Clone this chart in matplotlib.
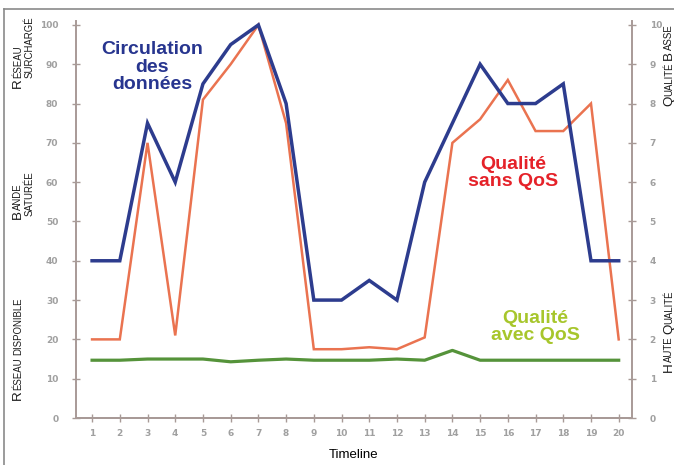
import matplotlib
matplotlib.use("Agg")
import matplotlib.pyplot as plt
from matplotlib import font_manager
from matplotlib.lines import Line2D

W, H = 674, 465

# data
timeline = list(range(1, 21))
circulation = [40, 40, 75, 60, 85, 95, 100, 80, 30, 30, 35, 30, 60, 75, 90, 80, 80, 85, 40, 40]
sans_qos = [2, 2, 7, 2.1, 8.1, 9, 10, 7.5, 1.75, 1.75, 1.8, 1.75, 2.05, 7, 7.6, 8.6, 7.3, 7.3, 8, 2]
avec_qos = [1.47, 1.47, 1.5, 1.5, 1.5, 1.43, 1.47, 1.5, 1.47, 1.47, 1.47, 1.5, 1.47, 1.72, 1.47,
            1.47, 1.47, 1.47, 1.47, 1.47]
left_ticks = list(range(0, 101, 10))
right_ticks = list(range(0, 11))

BLUE = "#2d3c8e"
RED = "#ea7350"
GREEN = "#55933a"
AXIS = "#a89a97"
TICKTXT = "#a0a0a0"


def have_font(name):
    try:
        font_manager.findfont(name, fallback_to_default=False)
        return True
    except Exception:
        return False


narrow = "Liberation Sans Narrow" if have_font("Liberation Sans Narrow") else "Liberation Sans"
k = 1.0 / 0.82 if narrow == "Liberation Sans Narrow" else 1.0

fig = plt.figure(figsize=(W / 100, H / 100), dpi=100)
ax = fig.add_axes([76 / W, 47 / H, (632 - 76) / W, (444 - 47) / H])
ax2 = ax.twinx()

ax.plot(timeline, circulation, color=BLUE, lw=2.5, solid_joinstyle="miter", zorder=3)
ax2.plot(timeline, sans_qos, color=RED, lw=1.8, solid_joinstyle="miter", zorder=2)
ax2.plot(timeline, avec_qos, color=GREEN, lw=2.3, zorder=2)

ax.set_xlim(0.42, 20.48)
ax.set_ylim(0, 101)
ax2.set_ylim(0, 10.1)
ax.set_zorder(ax2.get_zorder() + 1)
ax.patch.set_visible(False)

ax.set_xticks(timeline)
ax.set_yticks(left_ticks)
ax2.set_yticks(right_ticks)

for a in (ax, ax2):
    for s in a.spines.values():
        s.set_color(AXIS)
        s.set_linewidth(1.4)
    a.spines["top"].set_visible(False)
    a.tick_params(direction="inout", length=5.5, width=1.0, color=AXIS,
                  labelsize=6.5, labelcolor=TICKTXT)
ax.spines["right"].set_visible(False)
ax2.spines["left"].set_visible(False)
ax.tick_params(axis="y", pad=10)
ax2.tick_params(axis="y", pad=10)
ax.tick_params(axis="x", pad=5)
for lab in ax.get_xticklabels() + ax.get_yticklabels() + ax2.get_yticklabels():
    lab.set_fontweight("bold")

ax.set_xlabel("Timeline", family=narrow, fontsize=9.5 * k, labelpad=8)

# series labels
bold = dict(family="Liberation Sans", fontweight="bold", fontsize=14,
            ha="center", va="center", linespacing=1.02)
fig.text(152 / W, 1 - 67 / H, "Circulation\ndes\ndonnées", color="#27358f", **bold)
fig.text(513 / W, 1 - 173 / H, "Qualité\nsans QoS", color="#e52229", **bold)
fig.text(535 / W, 1 - 327 / H, "Qualité\navec QoS", color="#a7c62c", **bold)

renderer = fig.canvas.get_renderer()


def smallcaps(xb, ystart, word, big=9.6, small=6.9):
    # vertical small caps: capitals larger, rest smaller, sharing one baseline
    pieces = []
    for w_i, part in enumerate(word.split(" ")):
        if w_i:
            pieces.append((" ", small))
        if part[0].isupper():
            pieces.append((part[0], big))
            if part[1:]:
                pieces.append((part[1:].upper(), small))
        else:
            pieces.append((part.upper(), small))
    y = H - ystart
    for txt, size in pieces:
        t = fig.text(xb / W, y / H, txt, rotation=90, rotation_mode="anchor",
                     ha="left", va="baseline", family=narrow, fontsize=size * k,
                     color="#1a1a1a")
        y += t.get_window_extent(renderer).height


smallcaps(21, 88, "Réseau")
smallcaps(33, 78, "surchargé")
smallcaps(21, 219, "Bande")
smallcaps(33, 216, "saturée")
smallcaps(21, 400, "Réseau disponible")
smallcaps(672, 106, "Qualité Basse")
smallcaps(672, 372, "Haute Qualité")

# page frame
fig.add_artist(Line2D([4 / W, 1], [1 - 9 / H, 1 - 9 / H], color="#8a8a8a", lw=1.2))
fig.add_artist(Line2D([4 / W, 4 / W], [0, 1 - 9 / H], color="#8a8a8a", lw=1.2))

fig.savefig("out.png", dpi=100)
